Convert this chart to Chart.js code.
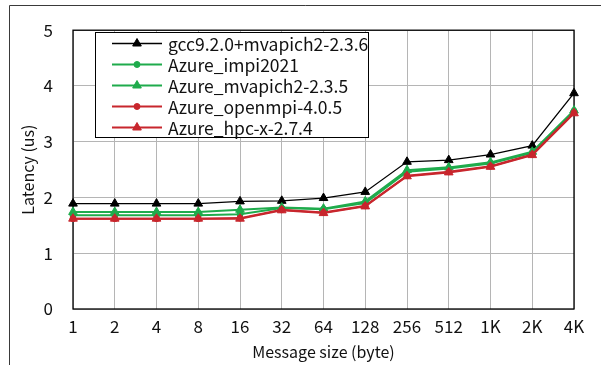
<!DOCTYPE html>
<html>
<head>
<meta charset="utf-8">
<script src="https://cdn.jsdelivr.net/npm/chart.js@4.4.1/dist/chart.umd.min.js"></script>
<style>
  html, body { margin: 0; padding: 0; background: #fff; }
  #wrap { position: relative; width: 601px; height: 365px; }
</style>
</head>
<body>
<div id="wrap"><canvas id="grafico" width="601" height="365"></canvas></div>
<script>
// Datos (latencia en us)
const tamanos = ["1", "2", "4", "8", "16", "32", "64", "128", "256", "512", "1K", "2K", "4K"];
const gccMvapich  = [1.89, 1.89, 1.89, 1.89, 1.93, 1.94, 1.99, 2.10, 2.64, 2.67, 2.77, 2.93, 3.87];
const azureImpi   = [1.68, 1.68, 1.68, 1.68, 1.70, 1.81, 1.79, 1.90, 2.46, 2.52, 2.61, 2.80, 3.55];
const azureMvap   = [1.74, 1.74, 1.74, 1.74, 1.78, 1.82, 1.80, 1.93, 2.49, 2.54, 2.63, 2.82, 3.56];
const azureOpen   = [1.62, 1.62, 1.62, 1.62, 1.63, 1.78, 1.73, 1.85, 2.39, 2.46, 2.56, 2.77, 3.52];
const azureHpcx   = [1.62, 1.62, 1.62, 1.62, 1.62, 1.77, 1.72, 1.84, 2.38, 2.45, 2.55, 2.76, 3.51];
const nombres = ["gcc9.2.0+mvapich2-2.3.6", "Azure_impi2021", "Azure_mvapich2-2.3.5",
                 "Azure_openmpi-4.0.5", "Azure_hpc-x-2.7.4"];
const yTicks = [0, 1, 2, 3, 4, 5];

const FUENTE = "'Noto Sans CJK JP', 'Noto Sans', sans-serif";
const VERDE = "#1fab4c";
const ROJO  = "#c8262d";

function serie(label, data, color, estilo, ancho, orden) {
    return {
        label, data,
        borderColor: color, backgroundColor: color,
        pointBackgroundColor: color, pointBorderColor: color,
        pointStyle: estilo,
        pointRadius: estilo === "triangle" ? 5 : 3,
        pointBorderWidth: 1,
        borderWidth: ancho,
        tension: 0,
        order: orden,
    };
}

// Marco exterior, borde del área de trazado y leyenda
const extras = {
    id: "extras",
    beforeDraw(chart) {
        const c = chart.ctx;
        c.save();
        c.fillStyle = "#fff";
        c.fillRect(0, 0, chart.width, chart.height);
        c.strokeStyle = "#3a3a3a";
        c.lineWidth = 1;
        c.beginPath();
        c.moveTo(9.5, chart.height);
        c.lineTo(9.5, 5.5);
        c.lineTo(chart.width, 5.5);
        c.stroke();
        c.restore();
    },
    beforeDatasetsDraw(chart) {
        const a = chart.chartArea, c = chart.ctx;
        c.save();
        c.strokeStyle = "#000";
        c.lineWidth = 1.3;
        c.strokeRect(a.left, a.top, a.right - a.left, a.bottom - a.top);
        c.restore();
    },
    afterDraw(chart) {
        const c = chart.ctx;
        const x0 = 95.5, y0 = 32.5, w = 273, h = 105;
        c.save();
        c.fillStyle = "#fff";
        c.fillRect(x0, y0, w, h);
        c.strokeStyle = "#000";
        c.lineWidth = 1;
        c.strokeRect(x0, y0, w, h);
        chart.data.datasets.forEach((ds, i) => {
            const y = 43.5 + i * 21;
            c.strokeStyle = ds.borderColor;
            c.lineWidth = ds.borderWidth;
            c.beginPath();
            c.moveTo(112, y);
            c.lineTo(162, y);
            c.stroke();
            c.fillStyle = ds.borderColor;
            c.lineWidth = 1;
            Chart.helpers.drawPoint(c, {
                pointStyle: ds.pointStyle, radius: ds.pointRadius,
                rotation: 0, borderWidth: 1,
            }, 137, y);
            c.fillStyle = "#111";
            c.font = "17.5px " + FUENTE;
            c.textBaseline = "middle";
            c.fillText(ds.label, 168, y + 1);
        });
        c.restore();
    },
};

new Chart(document.getElementById("grafico").getContext("2d"), {
    type: "line",
    data: {
        labels: tamanos,
        datasets: [
            serie(nombres[0], gccMvapich, "#000000", "triangle", 1.3, 4),
            serie(nombres[1], azureImpi,  VERDE, "circle", 2, 3),
            serie(nombres[2], azureMvap,  VERDE, "triangle", 2, 2),
            serie(nombres[3], azureOpen,  ROJO, "circle", 2, 1),
            serie(nombres[4], azureHpcx,  ROJO, "triangle", 2, 0),
        ],
    },
    options: {
        responsive: false,
        animation: false,
        layout: { padding: { left: 0, right: 27, top: 22, bottom: 0 } },
        plugins: { legend: { display: false }, tooltip: { enabled: false } },
        scales: {
            x: {
                offset: false,
                grid: { color: "#b5b5b5", lineWidth: 1, drawTicks: false },
                border: { display: false },
                ticks: { color: "#111", font: { family: FUENTE, size: 17 }, padding: 7,
                         maxRotation: 0, autoSkip: false },
                title: { display: true, text: "Message size (byte)", color: "#111",
                         font: { family: FUENTE, size: 16 }, padding: { top: 0, bottom: 3 } },
                afterFit: (s) => { s.height = 56; },
            },
            y: {
                min: 0, max: 5,
                afterBuildTicks: (s) => { s.ticks = yTicks.map((v) => ({ value: v })); },
                grid: { color: "#b5b5b5", lineWidth: 1, drawTicks: false },
                border: { display: false },
                ticks: { color: "#111", font: { family: FUENTE, size: 17 }, padding: 20 },
                title: { display: true, text: "Latency (us)", color: "#111",
                         font: { family: FUENTE, size: 16 }, padding: { top: 18, bottom: 0 } },
                afterFit: (s) => { s.width = 73; },
            },
        },
    },
    plugins: [extras],
});
</script>
</body>
</html>
